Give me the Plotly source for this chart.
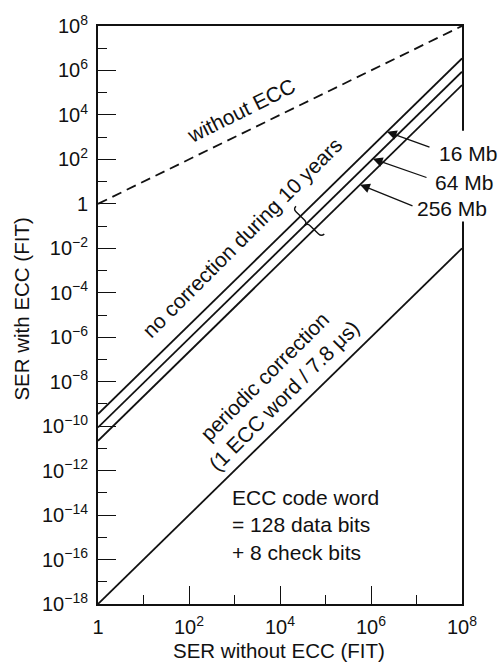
import math
import plotly.graph_objects as go

# ---- data -------------------------------------------------------------
# SER without ECC (FIT): end points of every straight log-log line
ser_without_ecc = [1, 1e8]

# SER with ECC (FIT) at those two end points
ser_no_ecc = [1, 1e8]                 # without ECC (y = x)
ser_16mb = [3.5e-10, 3.5e6]           # no correction during 10 years, 16 Mb
ser_64mb = [8.8e-11, 8.8e5]           # no correction during 10 years, 64 Mb
ser_256mb = [2.2e-11, 2.2e5]          # no correction during 10 years, 256 Mb
ser_periodic = [1e-18, 1e-2]          # periodic correction (1 ECC word / 7.8 us)

density_labels = ["16 Mb", "64 Mb", "256 Mb"]
density_series = [ser_16mb, ser_64mb, ser_256mb]
arrow_log_x = [6.35, 6.04, 5.76]      # where each label's arrow meets its line
brace_log_x = 4.6                     # where the brace crosses the 64 Mb line

x_tickvals = [1, 1e2, 1e4, 1e6, 1e8]
x_ticktext = ["1", "10<sup>2</sup>", "10<sup>4</sup>", "10<sup>6</sup>", "10<sup>8</sup>"]
x_minor = [1e1, 1e3, 1e5, 1e7]

y_tickvals = [1e8, 1e6, 1e4, 1e2, 1, 1e-2, 1e-4, 1e-6, 1e-8, 1e-10,
              1e-12, 1e-14, 1e-16, 1e-18]
y_ticktext = ["10<sup>8</sup>", "10<sup>6</sup>", "10<sup>4</sup>", "10<sup>2</sup>", "1",
              "10<sup>\u22122</sup>", "10<sup>\u22124</sup>", "10<sup>\u22126</sup>",
              "10<sup>\u22128</sup>", "10<sup>\u221210</sup>", "10<sup>\u221212</sup>",
              "10<sup>\u221214</sup>", "10<sup>\u221216</sup>", "10<sup>\u221218</sup>"]
y_minor = [1e7, 1e5, 1e3, 1e1, 1e-1, 1e-3, 1e-5, 1e-7, 1e-9, 1e-11,
           1e-13, 1e-15, 1e-17]

X_RANGE = [0, 8]
Y_RANGE = [-18, 8]

# ---- page geometry ----------------------------------------------------
W, H = 499, 669
ML, MR, MT, MB = 98, 37, 13, 65
PW, PH = W - ML - MR, H - MT - MB

FONT = "Liberation Sans, Arial, Helvetica, sans-serif"
INK = "#111111"
TXT = 21


def to_paper(px, py):
    """Pixel position on the page -> paper fraction."""
    return (px - ML) / PW, (H - MB - py) / PH


def data_to_px(lx, ly):
    """log10 data position -> pixel position on the page."""
    px = ML + (lx - X_RANGE[0]) / (X_RANGE[1] - X_RANGE[0]) * PW
    py = MT + (Y_RANGE[1] - ly) / (Y_RANGE[1] - Y_RANGE[0]) * PH
    return px, py


def log_on_line(series, lx):
    """log10 of a two-point log-log line evaluated at log10 x = lx."""
    x0, x1 = math.log10(ser_without_ecc[0]), math.log10(ser_without_ecc[1])
    y0, y1 = math.log10(series[0]), math.log10(series[1])
    return y0 + (y1 - y0) * (lx - x0) / (x1 - x0)


fig = go.Figure()

fig.add_trace(go.Scatter(x=ser_without_ecc, y=ser_no_ecc, mode="lines",
                         line=dict(color=INK, width=1.8, dash="10px,6px"),
                         name="without ECC"))
for lab, ser in zip(density_labels, density_series):
    fig.add_trace(go.Scatter(x=ser_without_ecc, y=ser, mode="lines",
                             line=dict(color=INK, width=1.8), name=lab))
fig.add_trace(go.Scatter(x=ser_without_ecc, y=ser_periodic, mode="lines",
                         line=dict(color=INK, width=1.8), name="periodic correction"))

# ---- axes -------------------------------------------------------------
axis_common = dict(
    showgrid=False, zeroline=False,
    showline=True, linecolor=INK, linewidth=2, mirror=True,
    ticks="inside", ticklen=18, tickwidth=1.4, tickcolor=INK,
    tickfont=dict(family=FONT, size=20, color=INK),
    ticklabeloverflow="allow",
)
fig.update_xaxes(type="log", range=X_RANGE, tickmode="array",
                 tickvals=x_tickvals, ticktext=x_ticktext,
                 minor=dict(tickmode="array", tickvals=x_minor, ticks="inside",
                            ticklen=9, tickwidth=1.4, tickcolor=INK),
                 ticklabelstandoff=4, **axis_common)
fig.update_yaxes(type="log", range=Y_RANGE, tickmode="array",
                 tickvals=y_tickvals, ticktext=y_ticktext,
                 minor=dict(tickmode="array", tickvals=y_minor, ticks="inside",
                            ticklen=9, tickwidth=1.4, tickcolor=INK),
                 ticklabelstandoff=4, **axis_common)

annotations = []


def text_at(px, py, text, angle=0, size=TXT, **kw):
    xp, yp = to_paper(px, py)
    d = dict(x=xp, y=yp, xref="paper", yref="paper", text=text,
             showarrow=False, textangle=angle,
             font=dict(family=FONT, size=size, color=INK),
             xanchor="center", yanchor="middle")
    d.update(kw)
    annotations.append(d)


# axis titles
text_at(279, 652, "SER without ECC (FIT)", size=20.5)
text_at(22, 303, "SER with ECC (FIT)", angle=-90, size=20.5)

# line labels
text_at(241, 99, "without ECC", angle=-26.5)
text_at(242, 229, "no correction during 10 years", angle=-45)
text_at(274, 381, "periodic correction<br>(1 ECC word / 7.8 \u03bcs)", angle=-45)
text_at(230, 523, "ECC code word<br>= 128 data bits<br>+ 8 check bits",
        xanchor="left", align="left")

# memory density labels with arrows pointing at their lines
label_pos = [(437, 143), (433, 173), (415, 200)]
arrow_tail = [(431, 137), (428, 168), (414, 197)]
for lab, ser, lx, (tx, ty), (ax_, ay_) in zip(density_labels, density_series,
                                              arrow_log_x, label_pos, arrow_tail):
    text_at(tx, ty, lab, xanchor="left")
    ly = log_on_line(ser, lx)
    hx, hy = data_to_px(lx, ly)
    annotations.append(dict(x=lx, y=ly, xref="x", yref="y", text="",
                            showarrow=True, arrowhead=2, arrowsize=1.5,
                            arrowwidth=1.3, arrowcolor=INK,
                            ax=ax_ - hx, ay=ay_ - hy))

fig.update_layout(annotations=annotations)

# ---- brace grouping the three "no correction" lines --------------------
cx, cy = data_to_px(brace_log_x, log_on_line(ser_64mb, brace_log_x))
r2 = math.sqrt(0.5)
u = (r2, r2)      # across the lines
v = (r2, -r2)     # along the lines
HB, hb = 20, 4


def bp(s, t):
    px = cx + s * u[0] + t * v[0]
    py = cy + s * u[1] + t * v[1]
    xp, yp = to_paper(px, py)
    return f"{xp:.5f},{yp:.5f}"


brace_path = (f"M {bp(-HB, hb)} Q {bp(-HB, 0)} {bp(-HB + hb, 0)} "
              f"L {bp(-hb, 0)} Q {bp(0, 0)} {bp(0, -hb)} "
              f"Q {bp(0, 0)} {bp(hb, 0)} L {bp(HB - hb, 0)} "
              f"Q {bp(HB, 0)} {bp(HB, hb)}")

gap_x0, gap_y0 = to_paper(455, 120)
gap_x1, gap_y1 = to_paper(470, 213)

fig.update_layout(shapes=[
    dict(type="path", path=brace_path, xref="paper", yref="paper",
         line=dict(color=INK, width=1.4), layer="above"),
    # the right frame line is interrupted behind the density labels
    dict(type="rect", xref="paper", yref="paper",
         x0=gap_x0, x1=gap_x1, y0=gap_y1, y1=gap_y0,
         fillcolor="white", line=dict(width=0), layer="above"),
])

fig.update_layout(
    width=W, height=H,
    margin=dict(l=ML, r=MR, t=MT, b=MB, pad=0),
    paper_bgcolor="white", plot_bgcolor="white",
    showlegend=False,
    font=dict(family=FONT, color=INK),
)

fig.write_html("out.html")
